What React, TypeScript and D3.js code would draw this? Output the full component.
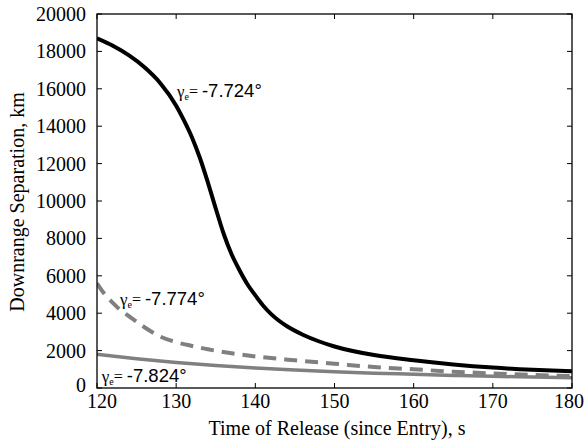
import React from "react";
import * as d3 from "d3";

const xTicks = [120, 130, 140, 150, 160, 170, 180];
const yTicks = [0, 2000, 4000, 6000, 8000, 10000, 12000, 14000, 16000, 18000, 20000];

const tBlack = [120, 122, 124, 126, 128, 130, 131, 132, 133, 134, 135, 136, 137, 138, 139, 140, 141, 142, 144, 146, 148, 150, 155, 160, 165, 170, 175, 180];
const vBlack = [18700, 18300, 17800, 17150, 16300, 15100, 14300, 13400, 12300, 11000, 9600, 8250, 7150, 6300, 5550, 4950, 4400, 3950, 3300, 2850, 2500, 2220, 1760, 1480, 1260, 1090, 970, 890];

const tDash = [120, 121, 122, 123, 124, 125, 126, 128, 130, 132, 134, 137, 140, 145, 150, 155, 160, 165, 170, 175, 180];
const vDash = [5600, 5000, 4550, 4150, 3850, 3550, 3250, 2750, 2450, 2250, 2070, 1860, 1690, 1480, 1300, 1120, 1000, 870, 780, 700, 640];

const tGray = [120, 125, 130, 135, 140, 145, 150, 155, 160, 165, 170, 175, 180];
const vGray = [1800, 1560, 1360, 1200, 1070, 960, 870, 795, 735, 675, 625, 585, 550];

const labels = ["-7.724°", "-7.774°", "-7.824°"];
const labelT = [130.1, 122.9, 120.6];
const labelV = [15560, 4440, 340];

const W = 588, H = 444;
const M = { left: 97, right: 572, top: 14, bottom: 388 };

export default function App() {
  const x = d3.scaleLinear().domain([120, 180]).range([M.left, M.right]);
  const y = d3.scaleLinear().domain([0, 20000]).range([M.bottom, M.top]);
  const line = d3
    .line<[number, number]>()
    .x((d) => x(d[0]))
    .y((d) => y(d[1]))
    .curve(d3.curveMonotoneX);
  const zip = (t: number[], v: number[]) => t.map((ti, i) => [ti, v[i]] as [number, number]);
  const serif = "'Liberation Serif', 'Times New Roman', serif";
  const sans = "'Liberation Sans', Arial, sans-serif";
  const tl = 5;
  const xLabelShift = (i: number) => (i === 0 ? 5 : i === xTicks.length - 1 ? -3 : 0);
  return (
    <svg width={W} height={H} style={{ position: "absolute", left: 0, top: 0, background: "#fff" }}>
      <defs>
        <clipPath id="clip">
          <rect x={M.left} y={M.top} width={M.right - M.left} height={M.bottom - M.top} />
        </clipPath>
      </defs>
      <g clipPath="url(#clip)" fill="none">
        <path d={line(zip(tGray, vGray)) || ""} stroke="#808080" strokeWidth={3.5} />
        <path d={line(zip(tDash, vDash)) || ""} stroke="#808080" strokeWidth={4} strokeDasharray="13 8" />
        <path d={line(zip(tBlack, vBlack)) || ""} stroke="#000" strokeWidth={4} />
      </g>
      <rect x={M.left} y={M.top} width={M.right - M.left} height={M.bottom - M.top} fill="none" stroke="#000" strokeWidth={1.3} />
      {xTicks.map((t, i) => (
        <g key={"x" + t}>
          <line x1={x(t)} x2={x(t)} y1={M.bottom} y2={M.bottom - tl} stroke="#000" strokeWidth={1} />
          <line x1={x(t)} x2={x(t)} y1={M.top} y2={M.top + tl} stroke="#000" strokeWidth={1} />
          <text x={x(t) + xLabelShift(i)} y={408} textAnchor="middle" fontFamily={serif} fontSize={20}>
            {t}
          </text>
        </g>
      ))}
      {yTicks.map((v) => (
        <g key={"y" + v}>
          <line x1={M.left} x2={M.left + tl} y1={y(v)} y2={y(v)} stroke="#000" strokeWidth={1} />
          <line x1={M.right} x2={M.right - tl} y1={y(v)} y2={y(v)} stroke="#000" strokeWidth={1} />
          <text x={86} y={y(v) + (v === 0 ? 4 : 7)} textAnchor="end" fontFamily={serif} fontSize={20}>
            {v}
          </text>
        </g>
      ))}
      <text x={337} y={435} textAnchor="middle" fontFamily={serif} fontSize={20}>
        Time of Release (since Entry), s
      </text>
      <text transform="translate(24,202) rotate(-90)" textAnchor="middle" fontFamily={serif} fontSize={20}>
        Downrange Separation, km
      </text>
      {labels.map((lab, i) => (
        <text key={lab} x={x(labelT[i])} y={y(labelV[i])} fontFamily={serif}>
          <tspan fontSize={17}>γ</tspan>
          <tspan fontSize={10} dy={3}>e</tspan>
          <tspan fontSize={16} dy={-3}>=</tspan>
          <tspan fontFamily={sans} fontSize={18.5} dx={4}>{lab}</tspan>
        </text>
      ))}
    </svg>
  );
}
